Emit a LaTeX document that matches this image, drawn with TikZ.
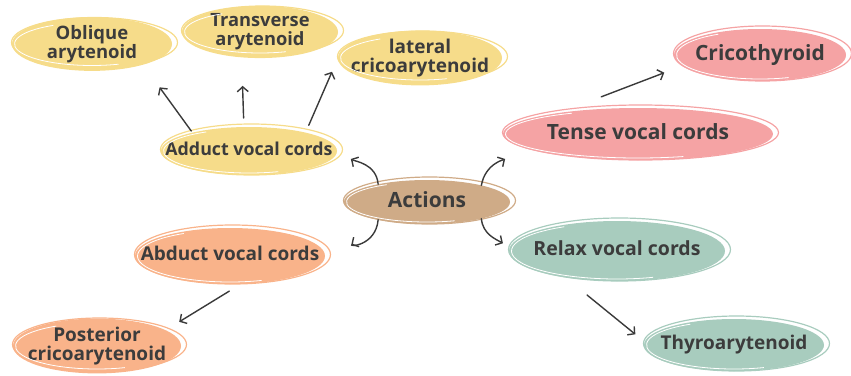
\documentclass[tikz,border=0pt]{standalone}
\usepackage{fontspec}
\setmainfont{Open Sans}
\usetikzlibrary{arrows.meta,shapes.geometric}
\definecolor{cyel}{HTML}{F6DC8A}
\definecolor{ctan}{HTML}{CFAB87}
\definecolor{cpink}{HTML}{F5A3A4}
\definecolor{corange}{HTML}{F9B38A}
\definecolor{cgreen}{HTML}{A8CCBE}
\definecolor{ctext}{HTML}{3C3C3C}
\definecolor{carrow}{HTML}{3A3A3A}
\tikzset{
  bubble/.style={ellipse, inner sep=0pt, outer sep=0pt, draw=none, text=ctext, font=\bfseries},
  conn/.style={draw=carrow, line width=1.4pt, line cap=round,
    -{Straight Barb[length=5pt,width=11pt,line width=1.4pt]}},
}
\newcommand\mybubble[8]{%
  \node[bubble, fill=#6, minimum width=#4pt*2, minimum height=#5pt*2] (#1) at (#2,-#3)
    {\makebox[0pt]{\fontsize{#7}{16.5}\selectfont\begin{tabular}{@{}c@{}}#8\end{tabular}}};
  \draw[#6, line width=1.2pt] ([shift={(2.5,1.5)}]#1.center) ellipse [x radius=#4pt+3pt, y radius=#5pt+1.5pt];
  \pgfmathsetmacro\ra{#4-2.5}\pgfmathsetmacro\rb{#5-2}
  \draw[white, line width=0.8pt] (#1.center) ++(120:\ra pt and \rb pt)
    arc[start angle=120, end angle=290, x radius=\ra pt, y radius=\rb pt];
}
\begin{document}
\begin{tikzpicture}[x=1pt,y=1pt]
\useasboundingbox (0,0) rectangle (851,-375);
\mybubble{obl}{92}{44}{80}{23.5}{cyel}{18.5}{Oblique\\arytenoid}
\mybubble{trans}{260}{32}{78}{23}{cyel}{18.3}{Transverse\\arytenoid}
\mybubble{lat}{420}{58}{82}{24}{cyel}{19}{lateral\\cricoarytenoid}
\mybubble{adduct}{249}{151}{88}{24}{cyel}{17.8}{Adduct vocal cords}
\mybubble{act}{427}{202}{83}{22}{ctan}{21}{Actions}
\mybubble{tense}{638}{134}{135}{26}{cpink}{21}{Tense vocal cords}
\mybubble{crico}{760}{55}{86}{26}{cpink}{21}{Cricothyroid}
\mybubble{abduct}{230}{256}{95}{28}{corange}{19}{Abduct vocal cords}
\mybubble{post}{97}{346}{84}{25}{corange}{19}{Posterior\\cricoarytenoid}
\mybubble{relax}{617}{251}{108}{30}{cgreen}{19.5}{Relax vocal cords}
\mybubble{thyro}{734}{345}{90}{26}{cgreen}{19}{Thyroarytenoid}

\draw[conn, shorten <=2pt, shorten >=28pt] (adduct.162) -- (obl.-22);
\draw[conn, shorten <=9pt, shorten >=28.5pt] (adduct.102.9) -- (trans.-126.7);
\draw[conn, shorten <=8pt, shorten >=15pt] (adduct.18.4) -- (lat.west);
\draw[conn, shorten <=45pt, shorten >=19pt] (tense.165.9) -- (crico.-172.7);
\draw[conn, shorten <=14pt, shorten >=16pt] (abduct.-68.4) -- (post.13.5);
\draw[conn, shorten <=28pt, shorten >=12pt] (relax.-153.7) -- (thyro.178.4);

\draw[conn, shorten >=16pt] (act.160) to[out=95,in=-30] (adduct.east);
\draw[conn, shorten >=22pt] (act.17.8) to[out=80,in=-150] (tense.-173.6);
\draw[conn, shorten >=32pt] (act.-160) to[out=-95,in=30] (abduct.-3.2);
\draw[conn, shorten >=8pt] (act.-17.8) to[out=-85,in=150] (relax.178.3);
\end{tikzpicture}
\end{document}
